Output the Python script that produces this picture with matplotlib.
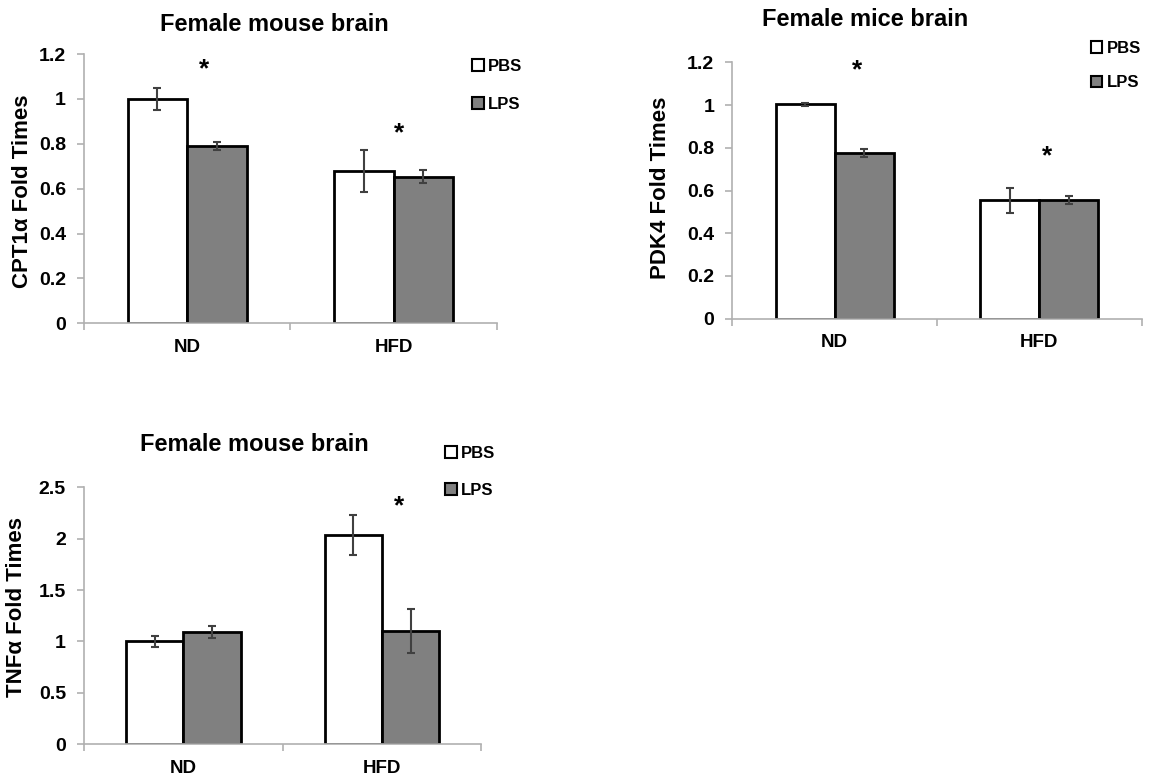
import matplotlib
matplotlib.use("Agg")
import matplotlib.pyplot as plt
from matplotlib.patches import Patch
from matplotlib.ticker import FuncFormatter, MultipleLocator

plt.rcParams["font.family"] = ["Liberation Sans", "DejaVu Sans"]
plt.rcParams["font.weight"] = "bold"

groups = ["ND", "HFD"]
treatments = ["PBS", "LPS"]

# CPT1a, female mouse brain
cpt1a_pbs = [1.00, 0.679]
cpt1a_pbs_err = [0.05, 0.094]
cpt1a_lps = [0.791, 0.654]
cpt1a_lps_err = [0.017, 0.03]

# PDK4, female mice brain
pdk4_pbs = [1.003, 0.555]
pdk4_pbs_err = [0.006, 0.058]
pdk4_lps = [0.775, 0.555]
pdk4_lps_err = [0.02, 0.02]

# TNFa, female mouse brain
tnfa_pbs = [1.00, 2.036]
tnfa_pbs_err = [0.05, 0.19]
tnfa_lps = [1.089, 1.105]
tnfa_lps_err = [0.058, 0.214]

fill_colors = ["white", "#808080"]
axis_gray = "#b0b0b0"
bar_w = 0.288


def draw_panel(ax, pbs, pbs_err, lps, lps_err, ymax, ystep, ylabel):
    centers = [0.5, 1.5]
    for k, (vals, errs) in enumerate([(pbs, pbs_err), (lps, lps_err)]):
        xs = [c - bar_w / 2 if k == 0 else c + bar_w / 2 for c in centers]
        ax.bar(xs, vals, width=bar_w, color=fill_colors[k], edgecolor="black",
               linewidth=2.0, zorder=2)
        ax.errorbar(xs, vals, yerr=errs, fmt="none", ecolor="#404040",
                    elinewidth=1.5, capsize=3, capthick=1.5, zorder=3)
    ax.set_xlim(0, 2)
    ax.set_ylim(0, ymax)
    ax.yaxis.set_major_locator(MultipleLocator(ystep))
    ax.yaxis.set_major_formatter(FuncFormatter(lambda v, p: "%g" % round(v, 2)))
    ax.set_xticks([0, 1, 2])
    ax.set_xticklabels([])
    ax.set_xticks(centers, minor=True)
    ax.set_xticklabels(groups, minor=True, fontsize=13.5, fontweight="bold")
    ax.tick_params(axis="x", which="minor", length=0, pad=11)
    ax.tick_params(axis="x", which="major", length=5, color=axis_gray, width=1.2)
    ax.tick_params(axis="y", length=5, color=axis_gray, width=1.2,
                   labelsize=14, pad=8)
    for t in ax.get_yticklabels():
        t.set_fontweight("bold")
    for s in ["top", "right"]:
        ax.spines[s].set_visible(False)
    for s in ["left", "bottom"]:
        ax.spines[s].set_color(axis_gray)
        ax.spines[s].set_linewidth(1.2)
    ax.set_ylabel(ylabel, fontsize=16, fontweight="bold")


def star(ax, x, y, size=19):
    # place the glyph so its visual centre sits on (x, y)
    ax.annotate("*", xy=(x, y), xytext=(0, -0.58 * size), textcoords="offset points",
                ha="center", va="baseline", fontsize=size, fontweight="bold",
                annotation_clip=False)


def title(ax, x, y, text):
    ax.text(x, y, text, transform=ax.transAxes, ha="center", va="baseline",
            fontsize=17, fontweight="bold")


def add_legend(fig, x, y, spacing):
    handles = [Patch(facecolor=c, edgecolor="black", linewidth=1.5) for c in fill_colors]
    fig.legend(handles, treatments, loc="upper left", bbox_to_anchor=(x, y),
               frameon=False, handlelength=0.7, handleheight=0.7,
               handletextpad=0.25, labelspacing=spacing, borderaxespad=0,
               prop={"weight": "bold", "size": 12})


fig = plt.figure(figsize=(11.52, 7.81), dpi=100)

ax1 = fig.add_axes([0.0729, 0.5860, 0.3585, 0.3448])
draw_panel(ax1, cpt1a_pbs, cpt1a_pbs_err, cpt1a_lps, cpt1a_lps_err,
           1.2, 0.2, "CPT1\u03b1 Fold Times")
title(ax1, 0.4615, 1.0866, "Female mouse brain")
ax1.yaxis.set_label_coords(-0.124, 0.489)
star(ax1, 0.58, 1.167)
star(ax1, 1.524, 0.884)
add_legend(fig, 0.4041, 0.9335, 1.40)

ax2 = fig.add_axes([0.6357, 0.5919, 0.3554, 0.3283])
draw_panel(ax2, pdk4_pbs, pdk4_pbs_err, pdk4_lps, pdk4_lps_err,
           1.2, 0.2, "PDK4 Fold Times")
title(ax2, 0.325, 1.1416, "Female mice brain")
ax2.yaxis.set_label_coords(-0.150, 0.509)
star(ax2, 0.608, 1.203)
star(ax2, 1.537, 0.797)
add_legend(fig, 0.9411, 0.9566, 1.18)

ax3 = fig.add_axes([0.0729, 0.0470, 0.3449, 0.3291])
draw_panel(ax3, tnfa_pbs, tnfa_pbs_err, tnfa_lps, tnfa_lps_err,
           2.5, 0.5, "TNF\u03b1 Fold Times")
title(ax3, 0.43, 1.1424, "Female mouse brain")
ax3.yaxis.set_label_coords(-0.143, 0.535)
star(ax3, 1.585, 2.40)
add_legend(fig, 0.3806, 0.4376, 1.30)

fig.savefig("out.png", dpi=100)
